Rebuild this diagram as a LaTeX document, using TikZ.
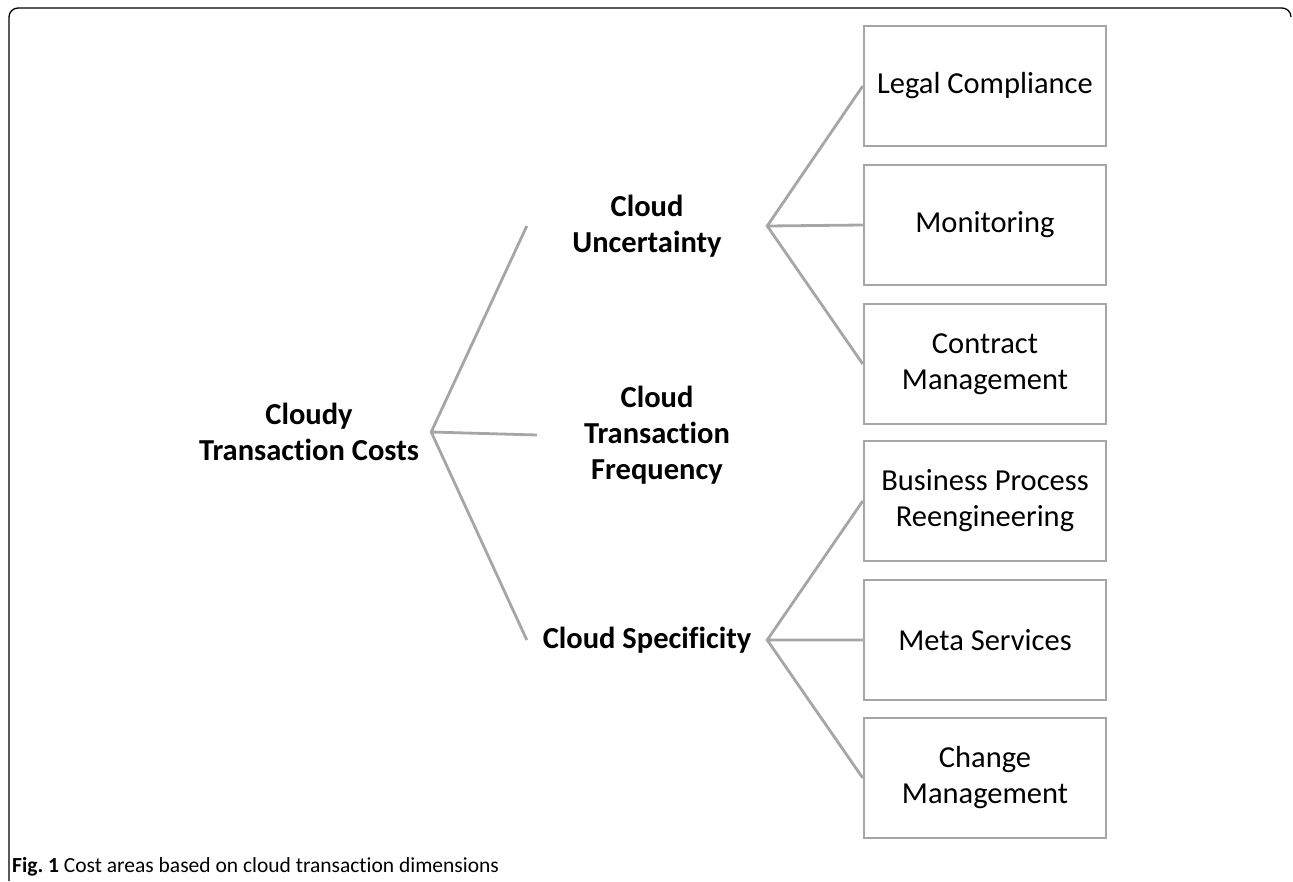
\documentclass[tikz,border=0pt]{standalone}
\usepackage{fontspec}
\setmainfont[RawFeature={-liga;-clig}]{Carlito}
\usepackage{tikz}
\usetikzlibrary{positioning}

\definecolor{linegray}{RGB}{166,166,166}

\tikzset{
  dimlabel/.style={align=center,font=\fontsize{30.5}{36}\selectfont\bfseries,minimum width=240pt,inner sep=0pt},
  areabox/.style={draw=linegray,line width=2.5pt,minimum width=242pt,minimum height=120pt,align=center,font=\fontsize{30.5}{36}\selectfont,inner sep=0pt},
  branch/.style={draw=linegray,line width=2.8pt}
}

\begin{document}
\begin{tikzpicture}[x=1pt,y=-1pt]
\useasboundingbox (0,0) rectangle (1293,881);
\draw[line width=1.3pt,rounded corners=9pt] (9,881) -- (9,8) -- (1291,8) -- (1291,17);

\node (costs) [dimlabel,minimum width=244pt] at (309,432) {Cloudy\\Transaction Costs};
\node (unc) [dimlabel] at (647,226) {Cloud\\Uncertainty};
\node (freq) [dimlabel] at (657,435) {Cloud\\Transaction\\Frequency};
\node (spec) [dimlabel] at (647,640) {Cloud Specificity};

\node (legal) [areabox] at (985,86) {Legal Compliance};
\node (monit) [areabox] at (985,225) {Monitoring};
\node (contract) [areabox] at (985,364) {Contract\\Management};
\node (bpr) [areabox] at (985,501) {Business Process\\Reengineering};
\node (meta) [areabox] at (985,640) {Meta Services};
\node (change) [areabox] at (985,778) {Change\\Management};

\draw[branch] (unc.west) -- (costs.east) -- (spec.west) (costs.east) -- (freq.west);
\draw[branch] (legal.west) -- (unc.east) -- (contract.west) (unc.east) -- (monit.west);
\draw[branch] (bpr.west) -- (spec.east) -- (change.west) (spec.east) -- (meta.west);

\node (caption) [anchor=base west,inner sep=0pt,font=\fontsize{21.5}{25}\selectfont] at (12,872) {\textbf{Fig.~1} Cost areas based on cloud transaction dimensions};
\end{tikzpicture}
\end{document}
